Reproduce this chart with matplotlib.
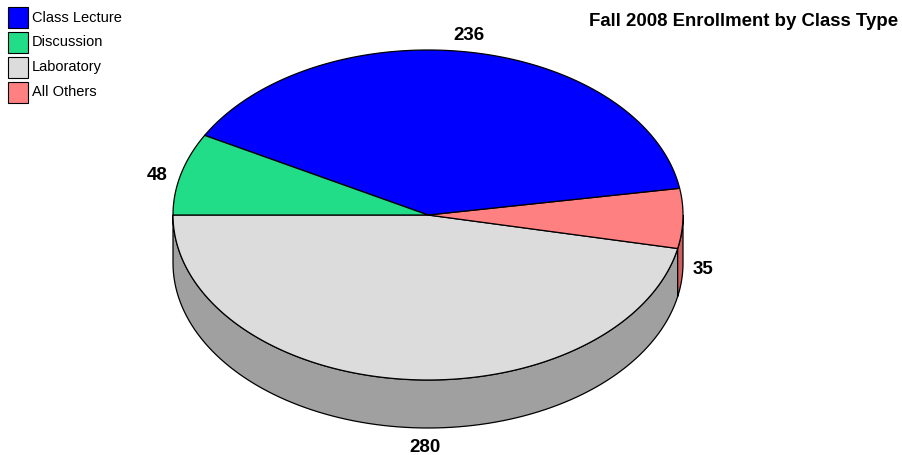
import numpy as np
import matplotlib
matplotlib.use('Agg')
import matplotlib.pyplot as plt
from matplotlib.patches import Polygon, Rectangle

# data
categories = ['Class Lecture', 'Discussion', 'Laboratory', 'All Others']
values = [236, 48, 280, 35]
top_colors = ['#0000FF', '#22DD88', '#DCDCDC', '#FF8080']
side_colors = ['#0000A0', '#189960', '#A0A0A0', '#D06060']
title = 'Fall 2008 Enrollment by Class Type'

# pie geometry (pixels)
cx, cy = 428, 215
rx, ry = 255, 165
depth = 48
start = 180.0  # Laboratory starts at the left edge, going counter-clockwise

# drawing order around the pie, counter-clockwise from start
order = [2, 3, 0, 1]
label_pos = {0: (469, 36), 1: (157, 175), 2: (425, 447), 3: (703, 270)}

W, H = 902, 455
fig = plt.figure(figsize=(W / 100, H / 100), dpi=100)
ax = fig.add_axes([0, 0, 1, 1])
ax.set_xlim(0, W)
ax.set_ylim(H, 0)
ax.axis('off')

def pt(t, dy=0):
    r = np.radians(t)
    return cx + rx * np.cos(r), cy - ry * np.sin(r) + dy

total = sum(values)
spans = {}
a = start
for i in order:
    sweep = 360.0 * values[i] / total
    spans[i] = (a, a + sweep)
    a += sweep

# side walls (front half: 180..360)
for i in order:
    a0, a1 = spans[i]
    for off in (0, 360, -360):
        lo = max(a0 + off, 180)
        hi = min(a1 + off, 360)
        if hi <= lo:
            continue
        ts = np.linspace(lo, hi, 100)
        top = [pt(t) for t in ts]
        bot = [pt(t, depth) for t in ts[::-1]]
        ax.add_patch(Polygon(top + bot, closed=True, fc=side_colors[i],
                             ec='black', lw=0.9, zorder=1))

# top faces
for i in order:
    a0, a1 = spans[i]
    ts = np.linspace(a0, a1, 200)
    verts = [(cx, cy)] + [pt(t) for t in ts]
    ax.add_patch(Polygon(verts, closed=True, fc=top_colors[i],
                         ec='black', lw=0.9, zorder=2))

# value labels
for i in order:
    x, y = label_pos[i]
    ax.text(x, y, str(values[i]), ha='center', va='center',
            fontsize=13.5, fontweight='bold', family='Liberation Sans')

# legend
for k, name in enumerate(categories):
    y0 = 7 + k * 25
    ax.add_patch(Rectangle((8, y0), 20, 21, fc=top_colors[k], ec='black', lw=0.8))
    ax.text(32, y0 + 10.5, name, ha='left', va='center', fontsize=10.5,
            family='Liberation Sans')

ax.text(898, 21, title, ha='right', va='center', fontsize=13.4,
        fontweight='bold', family='Liberation Sans')

fig.savefig('out.png', dpi=100)
